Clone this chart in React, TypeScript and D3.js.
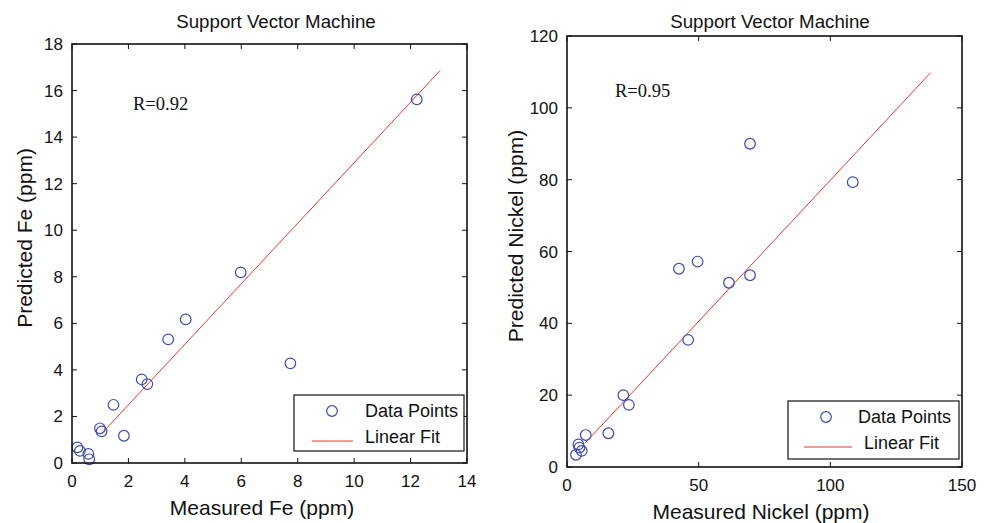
import * as React from 'react';
import * as d3 from 'd3';

// measured vs predicted (ppm)
const feMeasured = [0.19, 0.28, 0.58, 0.61, 0.99, 1.05, 1.47, 1.84, 2.47, 2.67, 3.41, 4.03, 5.98, 7.74, 12.22];
const fePredicted = [0.67, 0.52, 0.39, 0.16, 1.49, 1.36, 2.5, 1.17, 3.59, 3.39, 5.31, 6.17, 8.19, 4.28, 15.62];
const feFitRange = [1.05, 13.05];
const feFitCoef = [1.3, -0.1]; // slope, intercept
const feXTicks = [0, 2, 4, 6, 8, 10, 12, 14];
const feYTicks = [0, 2, 4, 6, 8, 10, 12, 14, 16, 18];

const niMeasured = [3.4, 4.3, 4.7, 5.6, 7.1, 15.7, 21.4, 23.5, 42.5, 46, 49.6, 61.5, 69.5, 69.5, 108.5];
const niPredicted = [3.4, 6.3, 5.4, 4.5, 8.9, 9.4, 20.0, 17.3, 55.2, 35.4, 57.2, 51.3, 53.4, 90.0, 79.3];
const niFitRange = [6.8, 138.1];
const niFitCoef = [0.786, 1.26];
const niXTicks = [0, 50, 100, 150];
const niYTicks = [0, 20, 40, 60, 80, 100, 120];

const legendLabels = ['Data Points', 'Linear Fit'];

const BLUE = '#3a4bb0';
const RED = '#e8372c';
const SANS = 'Liberation Sans, Arial, Helvetica, sans-serif';

function Panel(props) {
  const { box, xDomain, yDomain, xTicks, yTicks, xs, ys, fitRange, fitCoef,
    title, titleX, xLabel, xLabelX, yLabel, yLabelX, yLabelY, rText, rPos, legend } = props;
  const [x0, y0, x1, y1] = box;
  const x = d3.scaleLinear().domain(xDomain).range([x0, x1]);
  const y = d3.scaleLinear().domain(yDomain).range([y1, y0]);
  const fitPts = fitRange.map(v => [v, fitCoef[0] * v + fitCoef[1]]);
  const line = d3.line().x(d => x(d[0])).y(d => y(d[1]));
  const tl = 5;

  return (
    <g>
      <text x={titleX} y={28} fontFamily={SANS} fontSize={18.7} textAnchor="middle" fill="#111">{title}</text>
      <rect x={x0} y={y0} width={x1 - x0} height={y1 - y0} fill="white" stroke="none" />

      {xTicks.map(t => (
        <g key={'x' + t}>
          <line x1={x(t)} x2={x(t)} y1={y1} y2={y1 - tl} stroke="#111" />
          <line x1={x(t)} x2={x(t)} y1={y0} y2={y0 + tl} stroke="#111" />
          <text x={x(t)} y={y1 + 24} fontFamily={SANS} fontSize={17} textAnchor="middle" fill="#111">{t}</text>
        </g>
      ))}
      {yTicks.map(t => (
        <g key={'y' + t}>
          <line x1={x0} x2={x0 + tl} y1={y(t)} y2={y(t)} stroke="#111" />
          <line x1={x1} x2={x1 - tl} y1={y(t)} y2={y(t)} stroke="#111" />
          <text x={x0 - 9} y={y(t) + 6} fontFamily={SANS} fontSize={17} textAnchor="end" fill="#111">{t}</text>
        </g>
      ))}

      <path d={line(fitPts)} fill="none" stroke={RED} strokeWidth={1} />
      {xs.map((v, i) => (
        <circle key={i} cx={x(v)} cy={y(ys[i])} r={5.3} fill="none" stroke={BLUE} strokeWidth={1.2} />
      ))}

      <rect x={x0} y={y0} width={x1 - x0} height={y1 - y0} fill="none" stroke="#111" strokeWidth={1.6} />

      <text x={rPos[0]} y={rPos[1]} fontFamily="Liberation Serif, Times New Roman, serif" fontSize={18.5} fill="#111">{rText}</text>

      <text x={xLabelX} y={y1 + 52} fontFamily={SANS} fontSize={21} textAnchor="middle" fill="#111">{xLabel}</text>
      <text transform={`translate(${yLabelX},${yLabelY}) rotate(-90)`} fontFamily={SANS} fontSize={21} textAnchor="middle" fill="#111">{yLabel}</text>

      <g>
        <rect x={legend.x} y={legend.y} width={legend.w} height={legend.h} fill="white" stroke="#111" strokeWidth={1.2} />
        <circle cx={legend.mx} cy={legend.y + 16} r={5.3} fill="none" stroke={BLUE} strokeWidth={1.2} />
        <text x={legend.tx[0]} y={legend.y + 22} fontFamily={SANS} fontSize={18} fill="#111">{legendLabels[0]}</text>
        <line x1={legend.lx[0]} x2={legend.lx[1]} y1={legend.y + 46} y2={legend.y + 46} stroke={RED} strokeWidth={1} />
        <text x={legend.tx[1]} y={legend.y + 48} fontFamily={SANS} fontSize={18} fill="#111">{legendLabels[1]}</text>
      </g>
    </g>
  );
}

export default function App() {
  return (
    <svg width={989} height={523} style={{ position: 'absolute', left: 0, top: 0, background: 'white' }}>
      <rect width={989} height={523} fill="white" />
      <Panel
        box={[72, 44, 467, 463]}
        xDomain={[0, 14]} yDomain={[0, 18]}
        xTicks={feXTicks} yTicks={feYTicks}
        xs={feMeasured} ys={fePredicted}
        fitRange={feFitRange} fitCoef={feFitCoef}
        title="Support Vector Machine" titleX={276}
        xLabel="Measured Fe (ppm)" xLabelX={262}
        yLabel="Predicted Fe (ppm)" yLabelX={32} yLabelY={238}
        rText="R=0.92" rPos={[133, 110]}
        legend={{ x: 294, y: 395, w: 170, h: 56, mx: 332, tx: [365, 365], lx: [312, 353] }}
      />
      <Panel
        box={[567, 36, 962, 467]}
        xDomain={[0, 150]} yDomain={[0, 120]}
        xTicks={niXTicks} yTicks={niYTicks}
        xs={niMeasured} ys={niPredicted}
        fitRange={niFitRange} fitCoef={niFitCoef}
        title="Support Vector Machine" titleX={770}
        xLabel="Measured Nickel (ppm)" xLabelX={761}
        yLabel="Predicted Nickel (ppm)" yLabelX={523} yLabelY={236}
        rText="R=0.95" rPos={[615, 97]}
        legend={{ x: 788, y: 401, w: 171, h: 58, mx: 826, tx: [858, 864], lx: [804, 852] }}
      />
    </svg>
  );
}
